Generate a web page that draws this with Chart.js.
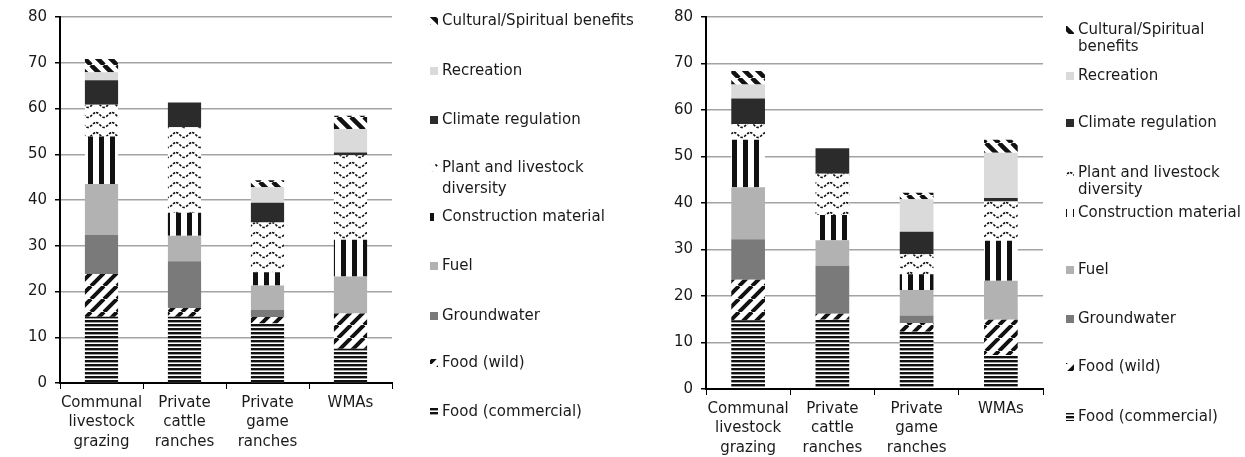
<!DOCTYPE html>
<html>
<head>
<meta charset="utf-8">
<script src="https://cdn.jsdelivr.net/npm/chart.js@4"></script>
<style>
  html, body { margin: 0; padding: 0; background: #fff; }
  #wrap { position: relative; width: 1245px; height: 457px; overflow: hidden; }
  #left { position: absolute; left: 0; top: 0; }
  #right { position: absolute; left: 622px; top: 0; }
</style>
</head>
<body>
<div id="wrap">
  <canvas id="left" width="660" height="457"></canvas>
  <canvas id="right" width="623" height="457"></canvas>
</div>
<script>
// categories and series (bottom of stack first)
const categories = [['Communal', 'livestock', 'grazing'], ['Private', 'cattle', 'ranches'], ['Private', 'game', 'ranches'], 'WMAs'];
const seriesNames = ['Food (commercial)', 'Food (wild)', 'Groundwater', 'Fuel', 'Construction material',
    'Plant and livestock diversity', 'Climate regulation', 'Recreation', 'Cultural/Spiritual benefits'];
const yTicks = [0, 10, 20, 30, 40, 50, 60, 70, 80];

// left panel
const leftFoodCommercial = [14.5, 14.5, 13.0, 7.5];
const leftFoodWild = [9.3, 1.9, 1.4, 7.7];
const leftGroundwater = [8.6, 10.2, 1.6, 0];
const leftFuel = [11.1, 5.6, 5.3, 8.1];
const leftConstruction = [10.4, 5.0, 2.9, 8.0];
const leftPlant = [6.9, 18.7, 10.9, 18.5];
const leftClimate = [5.4, 5.4, 4.3, 0.6];
const leftRecreation = [1.7, 0, 3.4, 5.1];
const leftCultural = [2.9, 0, 1.5, 2.9];

// right panel
const rightFoodCommercial = [14.8, 14.9, 12.3, 7.3];
const rightFoodWild = [8.7, 1.3, 1.9, 7.6];
const rightGroundwater = [8.7, 10.3, 1.6, 0];
const rightFuel = [11.2, 5.5, 5.5, 8.4];
const rightConstruction = [10.2, 5.4, 3.4, 8.6];
const rightPlant = [3.4, 8.9, 4.3, 8.4];
const rightClimate = [5.5, 5.5, 4.8, 0.8];
const rightRecreation = [3.0, 0, 7.0, 9.7];
const rightCultural = [2.9, 0, 1.4, 2.8];

const FONT = '"DejaVu Sans", "Liberation Sans", Arial, sans-serif';
const TEXT = '#1a1a1a';

// Pattern helpers
function tile(w, h, draw) {
    const c = document.createElement('canvas');
    c.width = w;
    c.height = h;
    const x = c.getContext('2d');
    x.fillStyle = '#fff';
    x.fillRect(0, 0, w, h);
    x.fillStyle = '#111';
    x.strokeStyle = '#111';
    draw(x, w, h);
    return x.createPattern(c, 'repeat');
}

function diagonal(s, width, rising) {
    return tile(s, s, (x) => {
        x.lineWidth = width;
        x.beginPath();
        for (let k = -1; k <= 1; k++) {
            if (rising) {
                x.moveTo(k * s, s);
                x.lineTo(k * s + s, 0);
            } else {
                x.moveTo(k * s, 0);
                x.lineTo(k * s + s, s);
            }
        }
        x.stroke();
    });
}

const patterns = [
    tile(4, 4, (x) => x.fillRect(0, 0, 4, 2.4)),             // food commercial
    diagonal(13, 4, true),                                      // food wild
    '#7a7a7a',                                                  // groundwater
    '#b2b2b2',                                                  // fuel
    tile(11, 4, (x) => x.fillRect(0, 0, 5, 4)),                // construction
    tile(16, 10, (x) => {                                      // plant & livestock diversity
        x.lineWidth = 1.7;
        x.setLineDash([2.5, 1.5]);
        x.beginPath();
        for (let i = 0; i <= 16; i++) {
            const yy = 5 - 2.5 * Math.cos(2 * Math.PI * i / 16);
            if (i === 0) x.moveTo(i, yy); else x.lineTo(i, yy);
        }
        x.stroke();
    }),
    '#2b2b2b',                                                  // climate regulation
    '#dadada',                                                  // recreation
    diagonal(13, 4.5, false)                                    // cultural/spiritual
];

function wrapText(ctx, text, maxWidth) {
    const words = text.split(' ');
    const lines = [];
    let line = '';
    words.forEach(w => {
        const test = line ? line + ' ' + w : w;
        if (ctx.measureText(test).width > maxWidth && line) {
            lines.push(line);
            line = w;
        } else {
            line = test;
        }
    });
    lines.push(line);
    return lines;
}

// Legend drawn at the right of each panel, top item = top of stack
const sideLegend = {
    id: 'sideLegend',
    afterDraw(chart, args, opts) {
        const ctx = chart.ctx;
        ctx.save();
        ctx.font = '15px ' + FONT;
        ctx.textBaseline = 'middle';
        const sets = chart.data.datasets.slice().reverse();
        sets.forEach((ds, i) => {
            const y = opts.rows[i];
            ctx.fillStyle = ds.backgroundColor;
            ctx.fillRect(opts.x, y - 4, 8, 8);
            ctx.fillStyle = TEXT;
            wrapText(ctx, ds.label, opts.maxWidth).forEach((line, j) => {
                ctx.fillText(line, opts.x + 12, y + j * opts.lineHeight);
            });
        });
        ctx.restore();
    }
};

function buildChart(id, values, cfg) {
    return new Chart(document.getElementById(id), {
        type: 'bar',
        data: {
            labels: categories,
            datasets: seriesNames.map((name, i) => ({
                label: name,
                data: values[i],
                backgroundColor: patterns[i],
                borderWidth: 0,
                barPercentage: 0.4,
                categoryPercentage: 1
            }))
        },
        options: {
            responsive: false,
            animation: false,
            layout: { padding: { top: 15, right: cfg.padRight, left: 0, bottom: 0 } },
            plugins: {
                legend: { display: false },
                tooltip: { enabled: false },
                sideLegend: cfg.legend
            },
            scales: {
                x: {
                    stacked: true,
                    grid: { drawOnChartArea: false, drawTicks: true, tickLength: 6, tickColor: '#000', offset: true },
                    border: { color: '#000', width: 2 },
                    ticks: { color: TEXT, font: { family: FONT, size: 15, lineHeight: 1.3 }, padding: 4, maxRotation: 0, autoSkip: false },
                    afterFit: s => { s.height = cfg.xHeight; }
                },
                y: {
                    stacked: true,
                    min: yTicks[0],
                    max: yTicks[yTicks.length - 1],
                    ticks: { stepSize: 10, color: TEXT, font: { family: FONT, size: 15 }, padding: 8 },
                    grid: { color: '#a3a3a3', lineWidth: 1.5, tickLength: 5, tickColor: '#000' },
                    border: { color: '#000', width: 2 },
                    afterFit: s => { s.width = cfg.yWidth; }
                }
            }
        },
        plugins: [sideLegend]
    });
}

buildChart('left',
    [leftFoodCommercial, leftFoodWild, leftGroundwater, leftFuel, leftConstruction,
     leftPlant, leftClimate, leftRecreation, leftCultural],
    {
        padRight: 268, xHeight: 74, yWidth: 60,
        legend: { x: 430, maxWidth: 195, lineHeight: 21, rows: [21, 71, 120, 168, 217, 266, 316, 363, 412] }
    });

buildChart('right',
    [rightFoodCommercial, rightFoodWild, rightGroundwater, rightFuel, rightConstruction,
     rightPlant, rightClimate, rightRecreation, rightCultural],
    {
        padRight: 202, xHeight: 68, yWidth: 84,
        legend: { x: 444, maxWidth: 165, lineHeight: 17, rows: [30, 76, 123, 173, 213, 270, 319, 367, 417] }
    });
</script>
</body>
</html>
